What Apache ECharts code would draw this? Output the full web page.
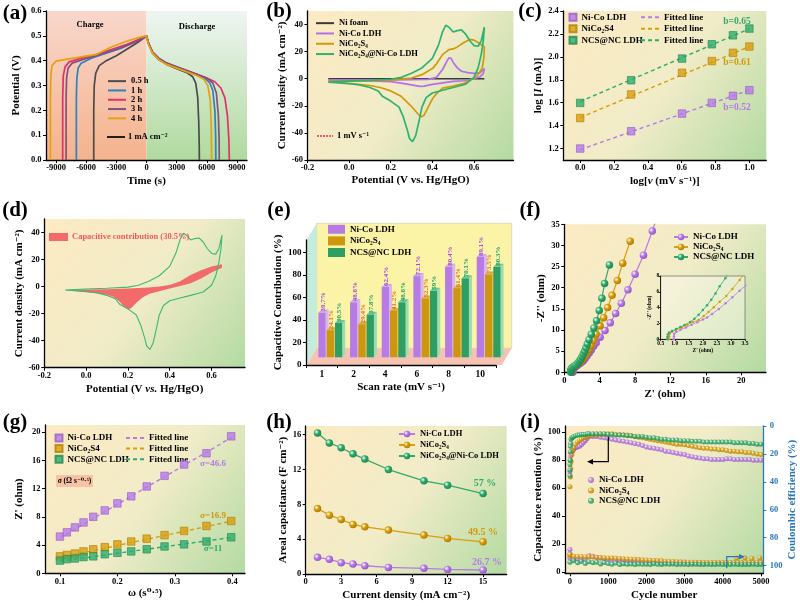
<!DOCTYPE html>
<html>
<head>
<meta charset="utf-8">
<script src="https://cdn.jsdelivr.net/npm/echarts@6/dist/echarts.min.js"></script>
<style>
html, body { margin: 0; padding: 0; background: #fff; }
#chart { width: 800px; height: 606px; }
</style>
</head>
<body>
<div id="chart"></div>
<script>
const F = '"Liberation Serif","DejaVu Serif",serif';
const VIO = '#B77BE8', ORA = '#D99E0B', GRN = '#2FAB6C';

// (a) galvanostatic charge/discharge, [time s, potential V]
const gcdNames = ['0.5 h', '1 h', '2 h', '3 h', '4 h'];
const gcdColors = ['#4B4B4B', '#2F7FC1', '#E3306A', '#86507E', '#E8A10E'];
const gcd05 = [[-5250,0],[-5250,0.2],[-5200,0.3],[-5050,0.35],[-4700,0.38],[-4000,0.40],[-3000,0.42],[-2000,0.445],[-1000,0.47],[-300,0.49],[0,0.5],[200,0.47],[600,0.43],[1200,0.405],[2000,0.385],[3000,0.368],[4000,0.352],[4600,0.335],[4900,0.31],[5100,0.25],[5200,0.15],[5250,0.05],[5260,0]];
const gcd1 = [[-6980,0],[-6980,0.25],[-6930,0.33],[-6800,0.37],[-6500,0.39],[-5500,0.41],[-4000,0.43],[-2500,0.45],[-1200,0.475],[-300,0.492],[0,0.5],[200,0.47],[600,0.435],[1200,0.41],[2000,0.39],[3000,0.375],[4000,0.36],[5000,0.345],[5800,0.33],[6300,0.31],[6600,0.28],[6800,0.2],[6880,0.1],[6900,0]];
const gcd2 = [[-8340,0],[-8340,0.25],[-8280,0.34],[-8100,0.375],[-7700,0.395],[-6500,0.41],[-5000,0.425],[-3500,0.445],[-2000,0.465],[-800,0.485],[0,0.5],[200,0.47],[600,0.435],[1200,0.41],[2000,0.39],[3000,0.373],[4000,0.36],[5000,0.345],[6000,0.33],[6800,0.315],[7400,0.29],[7800,0.25],[8050,0.18],[8200,0.08],[8240,0]];
const gcd3 = [[-8000,0],[-8000,0.25],[-7950,0.33],[-7800,0.37],[-7400,0.39],[-6300,0.405],[-5000,0.42],[-3500,0.44],[-2000,0.46],[-800,0.48],[0,0.5],[200,0.47],[600,0.435],[1200,0.41],[2000,0.39],[3000,0.375],[4000,0.36],[5000,0.345],[6000,0.33],[6600,0.31],[6950,0.27],[7150,0.18],[7230,0.08],[7240,0]];
const gcd4 = [[-9560,0],[-9560,0.25],[-9520,0.34],[-9400,0.38],[-9000,0.398],[-8000,0.405],[-6500,0.415],[-5000,0.425],[-3500,0.455],[-2000,0.478],[-800,0.493],[0,0.5],[200,0.465],[600,0.43],[1200,0.405],[2000,0.385],[3000,0.37],[4000,0.355],[5000,0.34],[5700,0.325],[6100,0.3],[6350,0.24],[6450,0.12],[6480,0]];
const gcdCurves = [gcd05, gcd1, gcd2, gcd3, gcd4];
const aTimeTicks = [-9000, -6000, -3000, 0, 3000, 6000, 9000];
const aVTicks = [0, 0.1, 0.2, 0.3, 0.4, 0.5, 0.6];

// (b)/(d) cyclic voltammetry, [V, mA cm-2]
const cvNiFoam = [[-0.1,0],[0.65,0]];
const cvLDH = [[-0.1,-1],[0,-1],[0.1,-1],[0.2,-0.9],[0.3,-0.7],[0.38,-0.5],[0.42,1],[0.45,7],[0.47,13],[0.48,15.5],[0.49,15],[0.5,12],[0.52,8],[0.54,5.5],[0.57,4.5],[0.6,4],[0.63,4.5],[0.65,7.5],[0.645,4],[0.63,1.5],[0.6,0],[0.55,-1.5],[0.5,-2],[0.45,-3],[0.4,-4.2],[0.36,-5.5],[0.34,-5.6],[0.3,-4.5],[0.25,-3.2],[0.2,-2.2],[0.1,-1.6],[0,-1.3],[-0.1,-1]];
const cvNCS = [[-0.1,-2],[0,-1.8],[0.1,-1.5],[0.2,-1],[0.3,0.5],[0.35,3],[0.4,7.5],[0.42,11],[0.45,18],[0.48,21.5],[0.5,22],[0.52,23.5],[0.55,26.5],[0.58,29],[0.6,28.5],[0.62,26.8],[0.64,24.5],[0.65,23.5],[0.648,16],[0.64,8],[0.62,3],[0.6,0.5],[0.55,-3.5],[0.5,-5.5],[0.45,-7],[0.42,-11],[0.4,-15],[0.38,-21],[0.36,-27],[0.35,-28],[0.34,-27.5],[0.32,-24],[0.3,-20.5],[0.27,-16],[0.25,-13],[0.2,-9],[0.15,-6.5],[0.1,-5],[0,-3.5],[-0.1,-2]];
const cvCore = [[-0.1,-2.5],[0,-1.8],[0.1,-1.2],[0.2,-0.4],[0.25,1],[0.3,4],[0.35,8],[0.4,15],[0.43,25],[0.45,35],[0.465,39.5],[0.48,38],[0.5,34.5],[0.52,35.5],[0.54,36],[0.56,33],[0.58,28],[0.6,24.5],[0.62,24],[0.635,28],[0.65,38],[0.645,28],[0.635,18],[0.62,8],[0.6,1],[0.56,-4],[0.5,-6.5],[0.45,-8.5],[0.4,-10.5],[0.37,-14],[0.35,-21],[0.335,-32],[0.32,-42],[0.305,-46.5],[0.29,-44],[0.28,-38],[0.26,-28],[0.24,-21],[0.2,-16.5],[0.16,-13],[0.14,-9],[0.1,-6.5],[0.05,-4.5],[0,-3.7],[-0.1,-2.5]];
const cvXTicks = [-0.2, 0, 0.2, 0.4, 0.6];
const cvYTicks = [-60, -40, -20, 0, 20, 40];
const capUpper = [[-0.1,-2.5],[0,-2.2],[0.1,-1.9],[0.2,-1.5],[0.3,-0.6],[0.35,0],[0.4,1.2],[0.45,4],[0.5,8.5],[0.55,12],[0.6,14.8],[0.65,16.5]];
const capLower = [[0.65,14],[0.6,10.5],[0.55,6],[0.5,2.5],[0.45,0.5],[0.4,-1.5],[0.35,-3.5],[0.3,-5.5],[0.27,-8],[0.24,-12],[0.215,-16],[0.2,-17],[0.18,-15],[0.16,-11],[0.13,-7.5],[0.1,-6],[0,-4],[-0.1,-2.5]];

// (c) log I vs log v
const cLogV = [0, 0.301, 0.602, 0.778, 0.903, 1.0];
const cLDH = [1.2, 1.351, 1.505, 1.598, 1.66, 1.709];
const cNCS = [1.466, 1.672, 1.861, 1.963, 2.035, 2.09];
const cCore = [1.598, 1.796, 1.985, 2.11, 2.188, 2.247];
const cFitX = [0, 1];
const cFitLDH = [1.19, 1.71];
const cFitNCS = [1.47, 2.09];
const cFitCore = [1.61, 2.245];
const cXTicks = [0, 0.2, 0.4, 0.6, 0.8, 1.0];
const cYTicks = [1.2, 1.4, 1.6, 1.8, 2.0, 2.2, 2.4];

// (e) capacitive contribution
const eRates = ['1', '2', '4', '6', '8', '10'];
const eLDH = [39.7, 48.8, 62.4, 72.1, 80.4, 89.1];
const eNCS = [24.1, 29.4, 41.2, 52.3, 61.4, 73.5];
const eCore = [30.5, 37.8, 48.8, 59, 70.1, 80.3];
const eYTicks = [0, 20, 40, 60, 80, 100];

// (f) Nyquist, [Z', -Z'']
const fLDH = [[0.97,0],[0.97,0.35],[0.98,0.7],[1.05,0.95],[1.2,1.2],[1.4,1.5],[1.6,1.85],[1.8,2.15],[2.0,2.5],[2.15,2.74],[2.33,3.2],[2.57,3.83],[2.81,4.55],[3.05,5.3],[3.31,6.15],[3.6,7.0],[4.05,8.3],[4.6,9.9],[5.2,11.7],[5.8,13.9],[6.45,16.3],[7.2,19.5],[8.0,23.2],[8.95,27.7],[9.95,33.4],[10.45,36.5]];
const fNCS = [[0.8,0],[0.8,0.35],[0.82,0.7],[0.9,0.95],[1.05,1.2],[1.25,1.5],[1.45,1.85],[1.65,2.2],[1.85,2.45],[2.03,2.95],[2.2,3.45],[2.39,4.04],[2.6,4.76],[2.83,5.47],[3.05,6.36],[3.31,7.5],[3.6,9.0],[4.05,11.0],[4.45,12.9],[4.9,15.3],[5.4,18.2],[6.0,21.7],[6.6,25.8],[7.45,31.0]];
const fCore = [[0.74,0],[0.74,0.3],[0.75,0.6],[0.8,0.85],[0.9,1.05],[1.05,1.3],[1.2,1.55],[1.35,1.8],[1.55,2.2],[1.7,2.6],[1.85,3.1],[2.0,3.7],[2.15,4.3],[2.3,5.0],[2.45,5.8],[2.6,6.7],[2.8,7.7],[3.05,9.0],[3.35,10.5],[3.65,12.2],[3.95,14.6],[4.25,17.5],[4.55,21.0],[5.1,25.4]];
const fXTicks = [0, 4, 8, 12, 16, 20];
const fYTicks = [0, 5, 10, 15, 20, 25, 30, 35];
const fInXTicks = [0.5, 1.0, 1.5, 2.0, 2.5, 3.0, 3.5];
const fInYTicks = [0, 2, 4, 6, 8];

// (g) Z' vs omega^-0.5
const gOmega = [0.1, 0.112, 0.126, 0.141, 0.158, 0.178, 0.2, 0.224, 0.251, 0.282, 0.316, 0.355, 0.398];
const gLDH = [5.2, 5.8, 6.5, 7.2, 8.0, 8.9, 9.9, 10.9, 12.3, 13.8, 15.4, 17.0, 19.4];
const gNCS = [2.4, 2.6, 2.8, 3.1, 3.4, 3.7, 4.1, 4.5, 4.9, 5.4, 6.0, 6.7, 7.4];
const gCore = [1.8, 2.0, 2.1, 2.3, 2.4, 2.7, 2.9, 3.1, 3.4, 3.8, 4.1, 4.5, 5.1];
const gFitX = [0.1, 0.4];
const gFitLDH = [5.0, 19.3];
const gFitNCS = [2.2, 7.4];
const gFitCore = [1.7, 5.1];
const gXTicks = [0.1, 0.2, 0.3, 0.4];
const gYTicks = [0, 4, 8, 12, 16, 20];

// (h) areal capacitance
const hCurrent = [1, 2, 3, 4, 5, 7, 10, 12, 15];
const hLDH = [1.91, 1.68, 1.3, 1.15, 0.95, 0.76, 0.65, 0.53, 0.46];
const hNCS = [7.52, 6.76, 6.26, 5.69, 5.42, 5.04, 4.47, 4.09, 3.7];
const hCore = [16.2, 15.05, 14.5, 13.8, 13.2, 12.0, 10.7, 10.2, 9.24];
const hXTicks = [0, 3, 6, 9, 12, 15];
const hYTicks = [0, 4, 8, 12, 16];

// (i) cycling
const iCycRet = [0,10,20,30,50,75,100,150,200,250,300,350,400,450,500,600,700,800,900,1000,1100,1200,1300,1400,1500,1600,1700,1800,1900,2000,2100,2200,2300,2400,2500,2600,2700,2800,2900,3000,3100,3200,3300,3400,3500,3600,3700,3800,3900,4000,4100,4200,4300,4400,4500,4600,4700,4800,4900,5000];
const iRetLDH = [72,80,83,85,86,87,88,89,89.5,90,91,92.5,94,95.5,97,97,97,96.5,96,95.5,95,94.5,94,93.5,93,92.5,92,91.5,90.5,89.5,89,88.5,88,87.5,86.5,86,85.5,85,84.5,84,83,82.5,82,81.5,81,81,80.5,80.5,80.5,80.5,81,81,80.5,80.5,80.5,80.5,80.5,80,80,80];
const iRetNCS = [61,68,74,79,84,87,89,91.5,93,94,95,96,96.5,97,97.5,98,98,98.5,98.5,99,99,98.5,98.5,98,98,97.5,97,96.5,96,95.5,95,94.5,94,93.5,93,92.5,92,91.5,91.5,91,90.5,90,89.5,89,88.5,88.5,88,88,87.5,87.5,87,86.5,86.5,86,86,85.5,85.5,85,84.5,84];
const iRetCore = [73,86,92,95,96,96.5,97,97.5,98,98,98.5,98.5,98.5,99,99,99,99,99,99,98.5,98.5,98,98,98,97.5,97.5,97,97,97,96.5,96,96,95.5,95,95,94.5,94.5,94.5,94,94,94,93.5,93.5,93.5,93,93,93,93,93,93,93,93,92.5,92.5,92.5,92.5,92,92,91.5,91.5];
const iRetEarlyCore = [[0,69],[0,77],[5,80],[10,90]];
const iCycCE = [0,100,200,300,400,500,600,700,800,900,1000,1100,1200,1300,1400,1500,1600,1700,1800,1900,2000,2100,2200,2300,2400,2500,2600,2700,2800,2900,3000,3100,3200,3300,3400,3500,3600,3700,3800,3900,4000,4100,4200,4300,4400,4500,4600,4700,4800,4900,5000];
const iCeLDH = [94.7,95.2,95.2,95.7,95.2,92.7,93.2,94.2,94.7,95.2,95.7,95.7,96.2,96.2,96.2,96.7,96.7,96.7,96.7,97.2,97.2,97.2,97.2,97.2,97.7,97.7,97.7,97.7,97.7,97.7,98.2,98.2,98.2,98.2,98.2,98.2,98.2,98.2,98.2,98.2,98.2,98.2,98.2,98.2,98.2,98.2,98.2,98.2,98.2,98.2,98.2];
const iCeNCS = [93.2,93.3,93.4,93.5,93.6,93.7,93.9,94,94.2,94.3,94.5,94.6,94.8,94.9,95.1,95.2,95.4,95.5,95.7,95.8,96,96.1,96.3,96.4,96.6,96.8,97,97.1,97.2,97.3,97.4,97.5,97.5,97.6,97.6,97.7,97.7,97.7,97.7,97.8,97.8,97.8,97.8,97.8,97.8,97.8,97.8,97.8,97.8,97.8,97.8];
const iCeCore = [97.5,96.5,98,97,98.5,97.2,98,97.5,98.8,97.8,98.5,99,98.2,99.2,98.6,99,98.9,99.2,98.8,99.1,99,99.2,98.7,99.1,99.2,98.9,99.1,98.8,99.2,99,99.1,99.2,99,99.1,99.2,99.2,99.1,99.2,99.2,99.1,99.2,99.2,99.2,99.1,99.2,99.2,99.2,99.2,99.1,99.2,99.2];
const iCeExtraLDH = [[0,88.5],[0,91.5]];
const iCeExtraNCS = [[0,92],[4360,94.6],[4580,94.4],[4760,94.8],[4970,94.5]];
const iXTicks = [0, 1000, 2000, 3000, 4000, 5000];
const iYTicks = [0, 20, 40, 60, 80, 100];

// ---------- helpers ----------
function merge(a, b) {
  for (const k in b) {
    if (b[k] && typeof b[k] === 'object' && !Array.isArray(b[k]) && a[k] && typeof a[k] === 'object') merge(a[k], b[k]);
    else a[k] = b[k];
  }
  return a;
}
function axis(gi, ticks, extra) {
  const a = {
    gridIndex: gi, type: 'value',
    axisLine: { show: true, onZero: false, lineStyle: { color: '#000', width: 1.3 } },
    axisTick: { show: true, length: 3, lineStyle: { color: '#000' }, customValues: ticks },
    axisLabel: { color: '#000', fontFamily: F, fontWeight: 'bold', fontSize: 8.5, margin: 4.5, customValues: ticks, formatter: v => String(v) },
    splitLine: { show: false },
    nameLocation: 'middle',
    nameTextStyle: { color: '#000', fontFamily: F, fontWeight: 'bold', fontSize: 11 }
  };
  return merge(a, extra || {});
}
const fix1 = v => v.toFixed(1);
function bg() {
  return { type: 'linear', x: 0, y: 0, x2: 1, y2: 1, colorStops: [
    { offset: 0, color: '#FCEAC2' }, { offset: 0.5, color: '#F1ECC8' }, { offset: 1, color: '#B3DAA2' }] };
}
function grid(l, t, w, h, back) {
  return { left: l, top: t, width: w, height: h, show: !!back, backgroundColor: back || 'transparent', borderWidth: 0 };
}
function ball(c, d) {
  return { type: 'radial', x: 0.35, y: 0.35, r: 0.75, colorStops: [
    { offset: 0, color: '#ffffff' }, { offset: 0.4, color: c }, { offset: 1, color: d }] };
}
const zip = (xs, ys) => xs.map((x, i) => [x, ys[i]]);
const nm = (s, p) => s + '\u200b'.repeat(p);
function legend(left, top, names, lh, extra) {
  return merge({
    left: left, top: top, orient: 'vertical', padding: 0, itemGap: 0, itemWidth: 18, itemHeight: 8,
    data: names, selectedMode: false, formatter: n => n.replace(/\u200b/g, ''),
    textStyle: { fontFamily: F, fontWeight: 'bold', fontSize: 9, color: '#000', lineHeight: lh }
  }, extra || {});
}
const lineOnly = { itemStyle: { color: 'transparent', borderColor: 'transparent', borderWidth: 0 } };
function txt(s, x, y, color, size, align) {
  return { type: 'text', x: x, y: y, z: 50, silent: true,
    style: { text: s, fill: color || '#000', font: 'bold ' + (size || 9) + 'px ' + F,
      align: align || 'center', verticalAlign: 'middle', textAlign: align || 'center', textVerticalAlign: 'middle' } };
}

// ---------- grids & axes ----------
const inset = grid(660.7, 276, 84.3, 63.3, 'rgba(255,255,248,0.35)');
inset.borderWidth = 0.8;
inset.borderColor = '#777';
const grids = [
  grid(46, 11, 201, 149),              // a
  grid(307.5, 11, 206, 149, bg()),     // b
  grid(563.3, 11, 203, 149, bg()),     // c
  grid(44.3, 219, 200.7, 148.7, bg()), // d
  grid(306, 240, 190, 125),            // e
  grid(564.3, 224.3, 201.7, 148, bg()),// f
  inset,                               // f inset
  grid(45, 425, 200, 148.3, bg()),     // g
  grid(305.7, 426, 201, 148, bg()),    // h
  grid(565, 426, 198.3, 147.3, bg())   // i
];

const richName = (size) => ({ rich: {
  a: { fontFamily: F, fontWeight: 'bold', fontSize: size },
  i: { fontFamily: F, fontWeight: 'bold', fontStyle: 'italic', fontSize: size } } });

const xAxes = [
  axis(0, aTimeTicks, { min: -10000, max: 10000, name: 'Time (s)', nameGap: 16, axisLabel: { margin: 3.5 } }),
  axis(1, cvXTicks, { min: -0.2, max: 0.79, name: 'Potential (V vs. Hg/HgO)', nameGap: 15, axisLabel: { formatter: fix1, margin: 3.5 } }),
  axis(2, cXTicks, { min: -0.1, max: 1.1, nameGap: 16, axisLabel: { formatter: fix1, margin: 3.5 },
    name: '{a|log[}{i|v}{a| (mV s⁻¹)]}', nameTextStyle: richName(11) }),
  axis(3, cvXTicks, { min: -0.2, max: 0.76, nameGap: 16, axisLabel: { formatter: fix1, margin: 3.5 },
    name: '{a|Potential (V }{i|vs.}{a| Hg/HgO)}', nameTextStyle: richName(11) }),
  axis(4, null, { type: 'category', data: eRates, name: 'Scan rate (mV s⁻¹)', nameGap: 17,
    axisLabel: { fontSize: 9.5, margin: 5 }, axisTick: { alignWithLabel: false } }),
  axis(5, fXTicks, { min: 0, max: 22.8, name: "Z' (ohm)", nameGap: 16, axisLabel: { margin: 3.5 } }),
  axis(6, fInXTicks, { min: 0.5, max: 3.5, name: "Z' (ohm)", nameGap: 7,
    axisLine: { lineStyle: { width: 0.8 } }, axisTick: { length: 1.5 },
    axisLabel: { fontSize: 5.5, margin: 1.5, formatter: fix1 }, nameTextStyle: { fontSize: 5.5 } }),
  axis(7, gXTicks, { min: 0.074, max: 0.422, name: 'ω (s⁰·⁵)', nameGap: 14, axisLabel: { formatter: fix1, margin: 3.5 } }),
  axis(8, hXTicks, { min: 0, max: 17, name: 'Current density (mA cm⁻²)', nameGap: 16, axisLabel: { margin: 3.5 } }),
  axis(9, iXTicks, { min: -130, max: 5060, name: 'Cycle number', nameGap: 16, axisLabel: { margin: 3.5 } })
];
delete xAxes[4].axisLabel.customValues;
delete xAxes[4].axisTick.customValues;

const yAxes = [
  axis(0, aVTicks, { min: 0, max: 0.6, name: 'Potential (V)', nameGap: 24, axisLabel: { formatter: fix1 } }),
  axis(1, cvYTicks, { min: -60, max: 50, name: 'Current density (mA cm⁻²)', nameGap: 20 }),
  axis(2, cYTicks, { min: 1.1, max: 2.4, nameGap: 20, axisLabel: { formatter: fix1 },
    name: '{a|log [}{i|I}{a| (mA)]}', nameTextStyle: richName(11) }),
  axis(3, cvYTicks, { min: -60, max: 50, name: 'Current density (mA cm⁻²)', nameGap: 20 }),
  axis(4, eYTicks, { min: 0, max: 111, name: 'Capacitive Contribution (%)', nameGap: 19, axisLabel: { fontSize: 9 } }),
  axis(5, fYTicks, { min: 0, max: 35, name: "-Z'' (ohm)", nameGap: 18 }),
  axis(6, fInYTicks, { min: 0, max: 8, name: "-Z'' (ohm)", nameGap: 5,
    axisLine: { lineStyle: { width: 0.8 } }, axisTick: { length: 1.5 },
    axisLabel: { fontSize: 5.5, margin: 1.5 }, nameTextStyle: { fontSize: 5.5 } }),
  axis(7, gYTicks, { min: 0, max: 21, name: "Z' (ohm)", nameGap: 20 }),
  axis(8, hYTicks, { min: 0, max: 17, name: 'Areal capacitance (F cm⁻²)', nameGap: 17 }),
  axis(9, iYTicks, { min: -1, max: 104.5, name: 'Capacitance retention (%)', nameGap: 20 }),
  axis(9, iYTicks, { min: 0, max: 105.5, inverse: true, position: 'right', name: 'Coulombic efficiency (%)', nameGap: 23,
    axisLine: { lineStyle: { color: '#2B78B8' } }, axisTick: { lineStyle: { color: '#2B78B8' } },
    axisLabel: { color: '#2B78B8', margin: 6.5 }, nameTextStyle: { color: '#2B78B8' } })
];

// ---------- series ----------
const series = [];

// (a)
gcdCurves.forEach((d, k) => {
  const s = { type: 'line', name: gcdNames[k], xAxisIndex: 0, yAxisIndex: 0, data: d, symbol: 'none',
    lineStyle: { color: gcdColors[k], width: 1.7 }, itemStyle: { color: gcdColors[k] }, z: 3 };
  if (k === 0) {
    s.markArea = { silent: true, z: 0, data: [
      [{ xAxis: -10000, itemStyle: { color: { type: 'linear', x: 0, y: 0, x2: 0, y2: 1, colorStops: [{ offset: 0, color: '#F8D7CC' }, { offset: 1, color: '#F4B38D' }] } } }, { xAxis: 0 }],
      [{ xAxis: 0, itemStyle: { color: { type: 'linear', x: 0, y: 0, x2: 0, y2: 1, colorStops: [{ offset: 0, color: '#EEF5F1' }, { offset: 1, color: '#B0DA9E' }] } } }, { xAxis: 10000 }]
    ] };
  }
  series.push(s);
});

// (b)
const bNames = ['Ni foam', 'Ni-Co LDH', 'NiCo₂S₄', 'NiCo₂S₄@Ni-Co LDH'].map(n => nm(n, 1));
[[cvNiFoam, '#3A3A3A'], [cvLDH, '#B56FEA'], [cvNCS, '#D2990A'], [cvCore, '#2DB36F']].forEach((p, k) => {
  series.push({ type: 'line', name: bNames[k], xAxisIndex: 1, yAxisIndex: 1, data: p[0], symbol: 'none',
    lineStyle: { color: p[1], width: 1.7 }, itemStyle: { color: p[1] } });
});

// (c)
const cNames = ['Ni-Co LDH', 'NiCo₂S4', 'NCS@NC LDH'].map(n => nm(n, 2));
const cFitNames = ['Fitted line', 'Fitted line\u200b', 'Fitted line\u200b\u200b'].map(n => nm(n, 2));
const cCols = [[VIO, '#9A5CCB'], [ORA, '#B27F05'], [GRN, '#1F8A52']];
[cLDH, cNCS, cCore].forEach((d, k) => {
  series.push({ type: 'line', name: cFitNames[k], xAxisIndex: 2, yAxisIndex: 2, symbol: 'none',
    data: zip(cFitX, [cFitLDH, cFitNCS, cFitCore][k]), lineStyle: { color: cCols[k][0], width: 1.4, type: [4, 3] }, itemStyle: { color: cCols[k][0] } });
  series.push({ type: 'scatter', name: cNames[k], xAxisIndex: 2, yAxisIndex: 2, symbol: 'rect', symbolSize: 7.5,
    data: zip(cLogV, d), itemStyle: { color: cCols[k][0], borderColor: cCols[k][1], borderWidth: 0.8 }, z: 4 });
});

// (d)
series.push({ type: 'custom', name: 'cap', xAxisIndex: 3, yAxisIndex: 3, data: [[0, 0]],
  renderItem: (params, api) => ({ type: 'polygon', shape: { points: capUpper.concat(capLower).map(p => api.coord(p)) }, style: { fill: '#F26A6A' } }) });
series.push({ type: 'line', name: 'cvd', xAxisIndex: 3, yAxisIndex: 3, data: cvCore, symbol: 'none',
  lineStyle: { color: '#3DB873', width: 1.1 }, z: 4 });

// (e) 3D bars
const eNames = ['Ni-Co LDH', 'NiCo₂S₄', 'NCS@NC LDH'].map(n => nm(n, 4));
function bar3D(s, vals, front, side, topc, lc) {
  return {
    type: 'custom', name: eNames[s], xAxisIndex: 4, yAxisIndex: 4, itemStyle: { color: front },
    data: vals.map((v, i) => [i, v]), encode: { x: 0, y: 1 }, z: 5,
    renderItem: (params, api) => {
      const i = api.value(0), v = api.value(1);
      const band = api.size([1, 0])[0];
      const c0 = api.coord([i, 0]), c1 = api.coord([i, v]);
      const w = band * 0.23, d = 3;
      const x0 = c0[0] + band * 0.268 + (s - 1) * band * 0.262 - w / 2;
      const yb = c0[1] - 7.7, yt = c1[1] - 7.7;
      return { type: 'group', children: [
        { type: 'polygon', shape: { points: [[x0 + w, yt], [x0 + w + d, yt - d], [x0 + w + d, yb - d], [x0 + w, yb]] }, style: { fill: side } },
        { type: 'polygon', shape: { points: [[x0, yt], [x0 + d, yt - d], [x0 + w + d, yt - d], [x0 + w, yt]] }, style: { fill: topc } },
        { type: 'rect', shape: { x: x0, y: yt, width: w, height: yb - yt }, style: { fill: front } },
        { type: 'text', x: x0 + w / 2 + 1, y: yt - 1, rotation: Math.PI / 2,
          style: { text: vals[params.dataIndex] + '%', fill: lc, font: 'bold 7px ' + F, align: 'left', verticalAlign: 'middle' } }
      ] };
    }
  };
}
series.push(bar3D(0, eLDH, '#B77BE6', '#D8B6F2', '#CDA6EE', '#A150D6'));
series.push(bar3D(1, eNCS, '#CC960E', '#E6C25E', '#DDB23C', '#E8702A'));
series.push(bar3D(2, eCore, '#2E9E62', '#9ADDB8', '#6CC896', '#26A060'));

// (f)
const fNames = ['Ni-Co LDH', 'NiCo₂S₄', 'NCS@NC LDH'].map(n => nm(n, 5));
const fCols = [[VIO, '#8E4FC4'], [ORA, '#A87400'], [GRN, '#1B7F4A']];
[fLDH, fNCS, fCore].forEach((d, k) => {
  series.push({ type: 'line', name: fNames[k], xAxisIndex: 5, yAxisIndex: 5, data: d, symbol: 'circle', symbolSize: 7.5,
    lineStyle: { color: fCols[k][0], width: 1.2 }, itemStyle: { color: ball(fCols[k][0], fCols[k][1]) } });
  series.push({ type: 'line', name: 'inset' + k, xAxisIndex: 6, yAxisIndex: 6, data: d, symbol: 'circle', symbolSize: 2.5,
    lineStyle: { color: fCols[k][0], width: 0.8 }, itemStyle: { color: fCols[k][0] } });
});

// (g)
const gNames = ['Ni-Co LDH', 'NiCo₂S4', 'NCS@NC LDH'].map(n => nm(n, 7));
const gFitNames = ['Fitted line', 'Fitted line\u200b', 'Fitted line\u200b\u200b'].map(n => nm(n, 7));
[gLDH, gNCS, gCore].forEach((d, k) => {
  series.push({ type: 'line', name: gFitNames[k], xAxisIndex: 7, yAxisIndex: 7, symbol: 'none',
    data: zip(gFitX, [gFitLDH, gFitNCS, gFitCore][k]), lineStyle: { color: cCols[k][0], width: 1.4, type: [4, 3] }, itemStyle: { color: cCols[k][0] } });
  series.push({ type: 'scatter', name: gNames[k], xAxisIndex: 7, yAxisIndex: 7, symbol: 'rect', symbolSize: 7.5,
    data: zip(gOmega, d), itemStyle: { color: cCols[k][0], borderColor: cCols[k][1], borderWidth: 0.8 }, z: 4 });
});

// (h)
const hNames = ['Ni-Co LDH', 'NiCo₂S₄', 'NiCo₂S₄@Ni-Co LDH'].map(n => nm(n, 8));
[hLDH, hNCS, hCore].forEach((d, k) => {
  series.push({ type: 'line', name: hNames[k], xAxisIndex: 8, yAxisIndex: 8, data: zip(hCurrent, d), symbol: 'circle', symbolSize: 7.5,
    lineStyle: { color: fCols[k][0], width: 1.3 }, itemStyle: { color: ball(fCols[k][0], fCols[k][1]) } });
});

// (i)
const iNames = ['Ni-Co LDH', 'NiCo₂S₄', 'NCS@NC LDH'].map(n => nm(n, 9));
[[iRetLDH, iCeLDH, [], iCeExtraLDH], [iRetNCS, iCeNCS, [], iCeExtraNCS], [iRetCore, iCeCore, iRetEarlyCore, []]].forEach((p, k) => {
  series.push({ type: 'scatter', name: iNames[k], xAxisIndex: 9, yAxisIndex: 9, symbolSize: 5,
    data: zip(iCycRet, p[0]).concat(p[2]), itemStyle: { color: ball(fCols[k][0], fCols[k][1]) } });
  series.push({ type: 'scatter', name: 'ce' + k, xAxisIndex: 9, yAxisIndex: 10, symbolSize: 5,
    data: zip(iCycCE, p[1]).concat(p[3]), itemStyle: { color: ball(fCols[k][0], fCols[k][1]) } });
});

// ---------- legends ----------
const legends = [
  legend(107, 76.5, gcdNames, 9.3, merge({ textStyle: { fontSize: 8.5 } }, lineOnly)),
  legend(315, 18, bNames, 10.3, merge({ textStyle: { fontSize: 8.5 } }, lineOnly)),
  legend(568.5, 11.5, cNames.map(n => ({ name: n, icon: 'rect' })), 11.5, { itemWidth: 7, itemHeight: 7 }),
  legend(640, 11.5, cFitNames, 11.5, lineOnly),
  legend(328, 223.5, eNames.map(n => ({ name: n, icon: 'rect' })), 11.6, { itemWidth: 17, itemHeight: 9 }),
  legend(673, 232, fNames, 10, { itemWidth: 14 }),
  legend(54.5, 432.7, gNames.map(n => ({ name: n, icon: 'rect' })), 10.6, { itemWidth: 7, itemHeight: 7 }),
  legend(125, 432.7, gFitNames, 10.6, lineOnly),
  legend(398, 428.5, hNames, 11, { itemWidth: 16, textStyle: { fontSize: 8.5 } }),
  legend(588, 474.8, iNames.map(n => ({ name: n, icon: 'circle' })), 10.4, { itemWidth: 6, itemHeight: 6 })
];

// ---------- decorations and labels ----------
const graphic = [
  // (e) walls
  { type: 'polygon', z: -10, silent: true, shape: { points: [[316.7, 223.3], [511.7, 223.3], [511.7, 348.3], [316.7, 348.3]] }, style: { fill: '#FBF3A6', stroke: '#C9C9B0', lineWidth: 0.6 } },
  { type: 'polygon', z: -10, silent: true, shape: { points: [[306.7, 240], [316.7, 223.3], [316.7, 348.3], [306.7, 365]] }, style: { fill: '#C4EBDB' } },
  { type: 'polygon', z: -10, silent: true, shape: { points: [[306.7, 365], [316.7, 348.3], [511.7, 348.3], [501.7, 365]] }, style: { fill: '#F6C3B2' } },
  // (i) arrows
  { type: 'polyline', z: 50, silent: true, shape: { points: [[608.3, 436.7], [608.3, 461.7], [592, 461.7]] }, style: { stroke: '#000', lineWidth: 1.2, fill: null } },
  { type: 'polygon', z: 50, silent: true, shape: { points: [[587, 461.7], [593, 459], [593, 464.4]] }, style: { fill: '#000' } },
  { type: 'polyline', z: 50, silent: true, shape: { points: [[726.7, 568.3], [726.7, 556.7], [740, 556.7]] }, style: { stroke: '#2B78B8', lineWidth: 1.2, fill: null } },
  { type: 'polygon', z: 50, silent: true, shape: { points: [[745, 556.7], [739, 554], [739, 559.4]] }, style: { fill: '#2B78B8' } },
  // (a) current note
  { type: 'line', z: 50, silent: true, shape: { x1: 107, y1: 137, x2: 125, y2: 137 }, style: { stroke: '#000', lineWidth: 1.7 } },
  txt('1 mA cm⁻²', 128, 137, '#000', 8.5, 'left'),
  txt('Charge', 90, 25, '#000', 8.5),
  txt('Discharge', 197, 27, '#000', 8.5),
  // (b) scan note
  { type: 'line', z: 50, silent: true, shape: { x1: 317, y1: 136, x2: 333, y2: 136 }, style: { stroke: '#E8334A', lineWidth: 1.6, lineDash: [2, 1] } },
  txt('1 mV s⁻¹', 337, 136, '#000', 8.5, 'left'),
  // (c) slopes
  txt('b=0.65', 737, 22, '#2FAB6C', 9.5), txt('b=0.61', 737, 63, '#D2990A', 9.5), txt('b=0.52', 737, 108, '#B77BE8', 9.5),
  // (d) capacitive legend
  { type: 'rect', z: 50, silent: true, shape: { x: 49, y: 233, width: 19, height: 8 }, style: { fill: '#F26A6A' } },
  txt('Capacitive contribution (30.5%)', 72, 237, '#F05A5A', 8.5, 'left'),
  // (g) sigma
  { type: 'rect', z: 49, silent: true, shape: { x: 56, y: 475, width: 37, height: 12 }, style: { fill: '#F7C2A6' } },
  txt('σ (Ω s⁻⁰·⁵)', 74.5, 481, '#000', 7.5),
  txt('σ=46.6', 213, 464, '#B77BE8', 9), txt('σ=16.9', 213, 516, '#D2990A', 9), txt('σ=11', 213, 549, '#2FAB6C', 9),
  // (h) retention
  txt('57 %', 485, 483, '#2FAB6C', 10), txt('49.5 %', 483, 532, '#D2990A', 10), txt('26.7 %', 487, 562, '#B77BE8', 10),
  // panel letters
  txt('(a)', 15, 14, '#000', 21), txt('(b)', 279, 12, '#000', 21), txt('(c)', 530, 12, '#000', 21),
  txt('(d)', 15, 211, '#000', 21), txt('(e)', 279, 211, '#000', 21), txt('(f)', 530, 211, '#000', 21),
  txt('(g)', 15, 423, '#000', 21), txt('(h)', 279, 423, '#000', 21), txt('(i)', 530, 423, '#000', 21)
];

const chart = echarts.init(document.getElementById('chart'), null, { renderer: 'canvas' });
chart.setOption({
  animation: false,
  backgroundColor: '#fff',
  grid: grids,
  xAxis: xAxes,
  yAxis: yAxes,
  legend: legends,
  series: series,
  graphic: graphic
});
</script>
</body>
</html>
